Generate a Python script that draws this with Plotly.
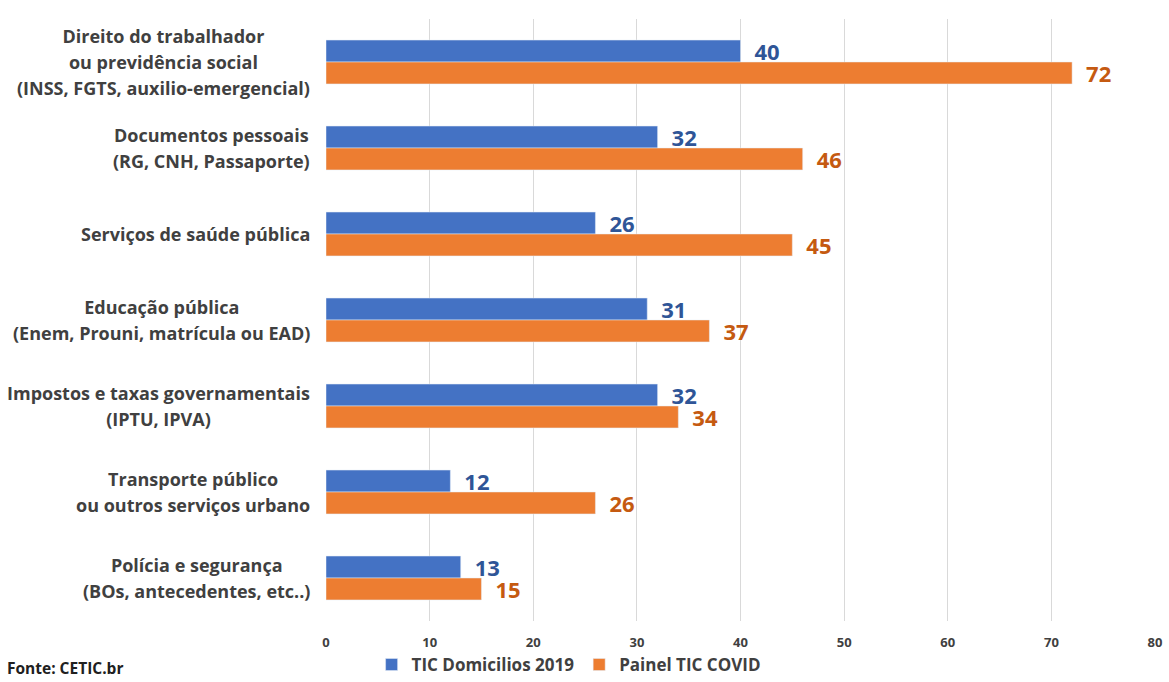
import plotly.graph_objects as go

categories = [
    "Direito do trabalhador<br>ou previdência social<br>(INSS, FGTS, auxilio-emergencial)",
    "Documentos pessoais<br>(RG, CNH, Passaporte)",
    "Serviços de saúde pública",
    "Educação pública<br>(Enem, Prouni, matrícula ou EAD)",
    "Impostos e taxas governamentais<br>(IPTU, IPVA)",
    "Transporte público<br>ou outros serviços urbano",
    "Polícia e segurança<br>(BOs, antecedentes, etc..)",
]
tic_domicilios_2019 = [40, 32, 26, 31, 32, 12, 13]
painel_tic_covid = [72, 46, 45, 37, 34, 26, 15]
x_ticks = [0, 10, 20, 30, 40, 50, 60, 70, 80]

FONT = "Open Sans"
BLUE = "#4472C4"
ORANGE = "#ED7D31"

fig = go.Figure()
fig.add_trace(go.Bar(
    y=categories, x=tic_domicilios_2019, orientation="h",
    name="<b>TIC Domicilios 2019</b>", marker_color=BLUE,
    text=tic_domicilios_2019, texttemplate="<b>\u2002%{x}</b>", textposition="outside",
    textfont=dict(family=FONT, size=22, color="#2F5597"),
    constraintext="none", cliponaxis=False,
))
fig.add_trace(go.Bar(
    y=categories, x=painel_tic_covid, orientation="h",
    name="<b>Painel TIC COVID</b>", marker_color=ORANGE,
    text=painel_tic_covid, texttemplate="<b>\u2002%{x}</b>", textposition="outside",
    textfont=dict(family=FONT, size=22, color="#C55A11"),
    constraintext="none", cliponaxis=False,
))

for c in categories:
    lines = c.split("<br>")
    txt = "<br>".join('<span style="font-size:18px"><b>' + ln + "</b></span>" for ln in lines)
    fig.add_annotation(
        x=0, xref="paper", y=c, yref="y", xanchor="right", yanchor="middle",
        xshift=-14, text=txt, showarrow=False, align="center",
        font=dict(family=FONT, size=20, color="#404040"),
    )

fig.add_annotation(
    x=0, xref="paper", y=0, yref="paper", xanchor="left", yanchor="middle",
    xshift=-321, yshift=-47, text="<b>Fonte: CETIC.br</b>", showarrow=False,
    font=dict(family=FONT, size=15.5, color="#202020"),
)

fig.update_layout(
    width=1169, height=682,
    margin=dict(l=326, r=14, t=19, b=61, autoexpand=False),
    paper_bgcolor="white", plot_bgcolor="white",
    barmode="group", bargap=0.49, bargroupgap=0,
    font=dict(family=FONT, color="#404040"),
    legend=dict(
        orientation="h", x=0.055, xanchor="left",
        y=0.025, yref="container", yanchor="middle",
        bgcolor="rgba(0,0,0,0)",
        font=dict(family=FONT, size=17, color="#404040"),
        itemwidth=30, traceorder="normal",
    ),
    xaxis=dict(
        range=[0, 80], tickvals=x_ticks, ticktext=["<b>%d</b>" % v for v in x_ticks],
        showgrid=True, gridcolor="#D9D9D9",
        gridwidth=1, zeroline=False, showline=False,
        tickfont=dict(family=FONT, size=13, color="#404040"),
        ticklabelstandoff=12,
    ),
    yaxis=dict(
        autorange="reversed", showticklabels=False, showgrid=False,
        zeroline=False, showline=False, ticks="",
    ),
)

fig.write_html("out.html")
